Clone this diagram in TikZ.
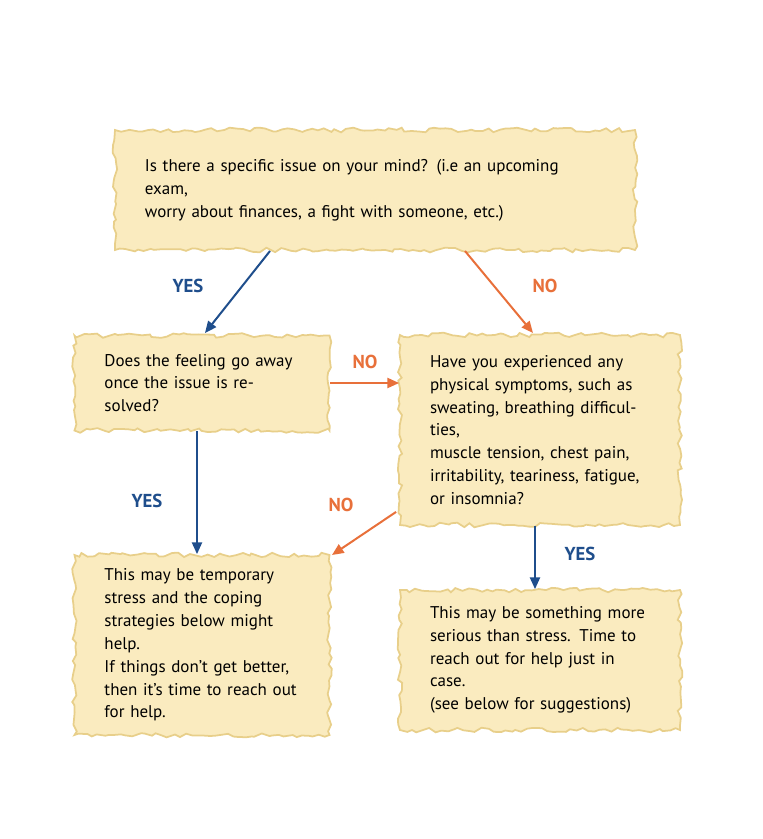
\documentclass[tikz,border=0pt]{standalone}
\usepackage{fontspec}
\setmainfont{PT Sans}
\usetikzlibrary{arrows.meta,decorations.pathmorphing}
\definecolor{paper}{HTML}{FAEBBF}
\definecolor{paperedge}{HTML}{E8CF8A}
\definecolor{yescol}{HTML}{1F4E8C}
\definecolor{nocol}{HTML}{E8703A}
\tikzset{
  box/.style={draw=paperedge, line width=1.5pt, fill=paper, decorate,
    decoration={random steps, segment length=5pt, amplitude=2pt},
    align=left, text width=#1, inner xsep=0.9cm,
    font=\fontsize{14.5}{19.5}\selectfont},
  yes/.style={draw=yescol, line width=0.06cm, -{Triangle[length=0.35cm,width=0.3cm]}},
  no/.style={draw=nocol, line width=0.06cm, -{Triangle[length=0.35cm,width=0.3cm]}},
  yeslab/.style={text=yescol, font=\bfseries\fontsize{16}{18}\selectfont},
  nolab/.style={text=nocol, font=\bfseries\fontsize{16}{18}\selectfont}
}
\begin{document}
\begin{tikzpicture}[x=0.03cm, y=-0.03cm]
  \useasboundingbox (0,0) rectangle (763,839);
  % questions
  \node[box=13.8cm, minimum height=3.6cm] (issue) at (375,190)
    {Is there a specific issue on your mind? (i.e an upcoming exam,\\
     worry about finances, a fight with someone, etc.)};
  \node[box=5.85cm, minimum height=2.85cm] (away) at (202,383)
    {Does the feeling go away\\ once the issue is resolved?};
  \node[box=6.6cm, minimum height=5.7cm] (symptoms) at (540,430)
    {Have you experienced any\\ physical symptoms, such as\\ sweating, breathing difficulties,\\
     muscle tension, chest pain,\\ irritability, teariness, fatigue,\\ or insomnia?};
  % answers
  \node[box=5.85cm, minimum height=5.4cm] (temporary) at (202,645)
    {This may be temporary\\ stress and the coping\\ strategies below might help.\\
     If things don't get better,\\ then it's time to reach out\\ for help.};
  \node[box=6.6cm, minimum height=4.2cm] (serious) at (540,660)
    {This may be something more\\ serious than stress. Time to\\ reach out for help just in case.\\
     (see below for suggestions)};
  % connectors
  \coordinate (issueL) at (270,251);
  \coordinate (issueR) at (465,251);
  \draw[yes] (issueL) -- (205,333);
  \draw[no] (issueR) -- (533,333);
  \draw[no] (away.east) -- (symptoms.west |- away.east);
  \draw[yes] (away.south -| 197,0) -- (temporary.north -| 197,0);
  \draw[no] (symptoms.south west) ++(-3,-14) -- (332,555);
  \draw[yes] (symptoms.south -| 535,0) -- (serious.north -| 535,0);
  % labels
  \node[yeslab] (yes1) at (188,286) {YES};
  \node[nolab] (no1) at (545,286) {NO};
  \node[nolab] (no2) at (365,362) {NO};
  \node[yeslab] (yes2) at (147,501) {YES};
  \node[nolab] (no3) at (341,505) {NO};
  \node[yeslab] (yes3) at (580,554) {YES};
\end{tikzpicture}
\end{document}
